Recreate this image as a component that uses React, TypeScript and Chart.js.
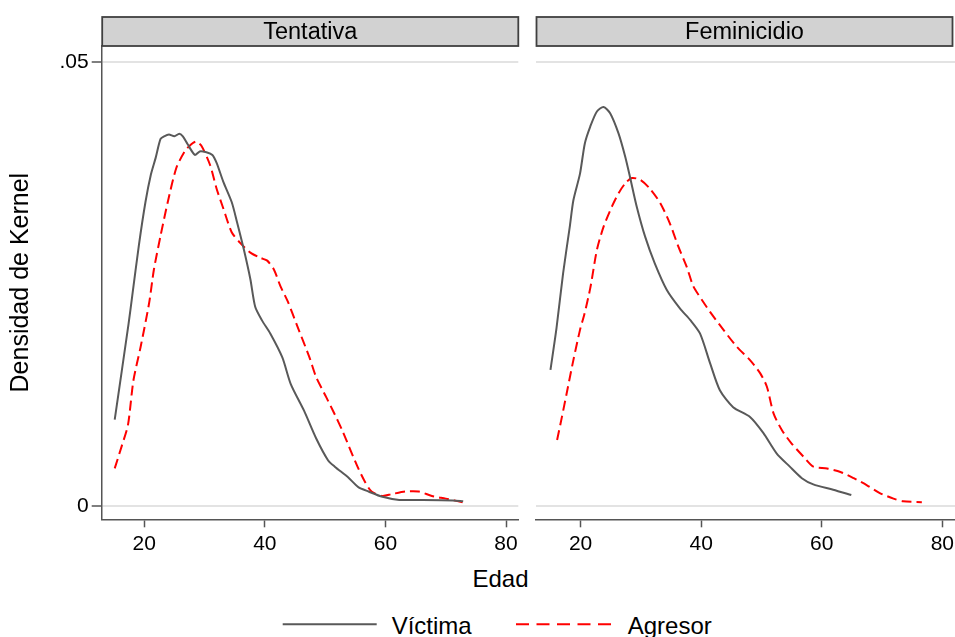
import React, { useEffect, useRef } from "react";
import { Chart, registerables } from "chart.js";

Chart.register(...registerables);

// ---------- data ----------
const panelNames = ["Tentativa", "Feminicidio"];
const seriesNames = ["Víctima", "Agresor"];

const xTicks = [20, 40, 60, 80];
const yTicks = [0, 0.05];
const yTickLabels = ["0", ".05"];

// Tentativa – Víctima
const tentVictAge = [15.1, 17.4, 18.0, 19.1, 20.2, 21.1, 21.9, 22.7, 23.3, 24.1, 25.0, 25.8, 26.4, 27.2, 28.4, 29.2, 30.3, 31.3, 32.0, 33.1, 34.5, 35.4, 36.5, 37.6, 38.4, 39.5, 40.9, 42.9, 44.3, 46.5, 48.5, 50.5, 51.6, 53.8, 55.5, 57.2, 59.5, 62.3, 66.2, 71.2, 72.9];
const tentVictDens = [0.0097, 0.0205, 0.0236, 0.0293, 0.0342, 0.0373, 0.0392, 0.0413, 0.0416, 0.0418, 0.0416, 0.0419, 0.0416, 0.0407, 0.0395, 0.0399, 0.0398, 0.0395, 0.0386, 0.0365, 0.0342, 0.0319, 0.0289, 0.0255, 0.0224, 0.0209, 0.0194, 0.0167, 0.0137, 0.0107, 0.0076, 0.0051, 0.0044, 0.0032, 0.0021, 0.0016, 0.0010, 0.00065, 0.00065, 0.0006, 0.0005];

// Tentativa – Agresor
const tentAgrAge = [15.1, 16.3, 17.3, 18.2, 19.4, 20.8, 21.6, 22.7, 23.9, 25.3, 26.7, 27.8, 28.6, 29.5, 30.9, 32.0, 33.1, 34.5, 35.9, 37.6, 39.3, 40.4, 41.5, 42.6, 43.8, 45.4, 47.4, 48.5, 50.2, 51.3, 52.9, 54.3, 55.5, 56.6, 57.7, 59.5, 61.0, 63.3, 65.5, 67.7, 70.0, 72.8];
const tentAgrDens = [0.0042, 0.0068, 0.0091, 0.0141, 0.0179, 0.0228, 0.0266, 0.0304, 0.0342, 0.0380, 0.0399, 0.0407, 0.0410, 0.0405, 0.0384, 0.0357, 0.0335, 0.0308, 0.0296, 0.0285, 0.0279, 0.0276, 0.0266, 0.0247, 0.0230, 0.0202, 0.0167, 0.0145, 0.0122, 0.0107, 0.0084, 0.0061, 0.0042, 0.0027, 0.0016, 0.0011, 0.0013, 0.0016, 0.0016, 0.0011, 0.0008, 0.0004];

// Feminicidio – Víctima
const femVictAge = [15.0, 16.0, 17.1, 18.2, 18.8, 19.9, 20.7, 21.6, 22.7, 23.8, 24.9, 26.3, 27.4, 28.2, 29.3, 30.7, 32.3, 34.3, 36.5, 38.2, 39.8, 41.5, 43.1, 45.3, 48.1, 50.3, 52.5, 54.7, 56.7, 58.6, 61.9, 64.9];
const femVictDens = [0.0153, 0.0200, 0.0262, 0.0314, 0.0344, 0.0374, 0.0408, 0.0427, 0.0444, 0.0449, 0.0442, 0.0419, 0.0393, 0.0370, 0.0337, 0.0303, 0.0273, 0.0243, 0.0222, 0.0209, 0.0194, 0.0160, 0.0130, 0.0111, 0.0100, 0.0082, 0.0059, 0.0044, 0.0031, 0.0024, 0.0018, 0.0012];

// Feminicidio – Agresor
const femAgrAge = [16.1, 16.9, 17.7, 18.8, 19.9, 20.6, 21.6, 22.7, 23.8, 25.2, 26.3, 27.4, 28.5, 29.9, 31.5, 33.2, 34.8, 36.2, 37.6, 38.7, 40.1, 41.5, 43.7, 45.9, 48.1, 49.8, 50.9, 52.0, 53.4, 55.0, 57.0, 58.6, 60.9, 63.1, 65.3, 67.5, 69.7, 71.9, 73.5, 76.6];
const femAgrDens = [0.0074, 0.0100, 0.0127, 0.0164, 0.0198, 0.0215, 0.0245, 0.0288, 0.0314, 0.0337, 0.0352, 0.0363, 0.0369, 0.0367, 0.0357, 0.0341, 0.0318, 0.0292, 0.0269, 0.0247, 0.0232, 0.0218, 0.0198, 0.0179, 0.0164, 0.0149, 0.0134, 0.0104, 0.0085, 0.0070, 0.0055, 0.0044, 0.0042, 0.0038, 0.0031, 0.0023, 0.0014, 0.0008, 0.0005, 0.0004];

// ---------- styles ----------
const FONT = "'Liberation Sans', Arial, sans-serif";
const VICT_COLOR = "#595959";
const AGR_COLOR = "#ff0000";
const AXIS_COLOR = "#555555";
const GRID_COLOR = "#e3e3e3";

const toPoints = (xs: number[], ys: number[]) => xs.map((x, i) => ({ x, y: ys[i] }));

const stripPlugin = {
  id: "strip",
  afterDraw(chart: any, _args: any, opts: any) {
    const { ctx, chartArea } = chart;
    const left = chartArea.left + 0.5;
    const right = chartArea.right - (opts.rightInset || 0);
    const top = 17;
    const h = 29;
    ctx.save();
    ctx.fillStyle = "#d2d2d2";
    ctx.fillRect(left, top, right - left, h);
    ctx.strokeStyle = "#404040";
    ctx.lineWidth = 1.8;
    ctx.strokeRect(left, top, right - left, h);
    ctx.fillStyle = "#000";
    ctx.font = `23.5px ${FONT}`;
    ctx.textAlign = "center";
    ctx.textBaseline = "middle";
    ctx.fillText(opts.text || "", (left + right) / 2, top + h / 2 + 1);
    ctx.restore();
  },
};

function makeConfig(
  name: string,
  vict: { x: number; y: number }[],
  agr: { x: number; y: number }[],
  showY: boolean,
  xMin: number,
  xMax: number,
  padLeft: number,
  padRight: number,
  rightInset: number
): any {
  return {
    type: "line",
    data: {
      datasets: [
        {
          label: seriesNames[0],
          data: vict,
          borderColor: VICT_COLOR,
          borderWidth: 2,
          pointRadius: 0,
          tension: 0.25,
          fill: false,
        },
        {
          label: seriesNames[1],
          data: agr,
          borderColor: AGR_COLOR,
          borderWidth: 2,
          borderDash: [10, 5],
          pointRadius: 0,
          tension: 0.25,
          fill: false,
        },
      ],
    },
    options: {
      animation: false,
      responsive: false,
      maintainAspectRatio: false,
      layout: { padding: { top: 46, left: padLeft, right: padRight, bottom: 0 } },
      plugins: {
        legend: { display: false },
        tooltip: { enabled: false },
        strip: { text: name, rightInset },
      },
      scales: {
        x: {
          type: "linear",
          min: xMin,
          max: xMax,
          afterBuildTicks: (axis: any) => {
            axis.ticks = xTicks.map((v) => ({ value: v }));
          },
          afterFit: (axis: any) => {
            axis.height = 40.7;
            axis.paddingLeft = 0;
            axis.paddingRight = 0;
          },
          ticks: {
            font: { family: FONT, size: 21 },
            color: "#000",
            padding: 4,
            maxRotation: 0,
            callback: (v: any) => String(v),
          },
          grid: {
            drawOnChartArea: false,
            drawTicks: true,
            tickLength: 8,
            tickColor: AXIS_COLOR,
            tickWidth: 1.5,
          },
          border: { display: true, color: AXIS_COLOR, width: 1.5 },
        },
        y: {
          type: "linear",
          min: -0.00153,
          max: 0.05177,
          afterBuildTicks: (axis: any) => {
            axis.ticks = yTicks.map((v) => ({ value: v }));
          },
          afterFit: (axis: any) => {
            axis.width = showY ? 101.7 : 0;
            axis.paddingTop = 0;
            axis.paddingBottom = 0;
          },
          ticks: {
            display: showY,
            font: { family: FONT, size: 21 },
            color: "#000",
            padding: 3,
            callback: (v: any) => {
              const i = yTicks.indexOf(v);
              return i >= 0 ? yTickLabels[i] : "";
            },
          },
          grid: {
            color: GRID_COLOR,
            lineWidth: 2,
            drawTicks: showY,
            tickLength: 10,
            tickColor: AXIS_COLOR,
            tickWidth: 1.5,
          },
          border: { display: showY, color: AXIS_COLOR, width: 1.5 },
          title: {
            display: showY,
            text: "Densidad de Kernel",
            font: { family: FONT, size: 25 },
            color: "#000",
            padding: { top: 6, bottom: 0 },
          },
        },
      },
    },
    plugins: [stripPlugin],
  };
}

export default function App() {
  const leftRef = useRef<HTMLCanvasElement>(null);
  const rightRef = useRef<HTMLCanvasElement>(null);

  useEffect(() => {
    const c1 = new Chart(
      leftRef.current as HTMLCanvasElement,
      makeConfig(
        panelNames[0],
        toPoints(tentVictAge, tentVictDens),
        toPoints(tentAgrAge, tentAgrDens),
        true,
        12.94,
        82.04,
        0,
        8.7,
        0
      )
    );
    const c2 = new Chart(
      rightRef.current as HTMLCanvasElement,
      makeConfig(
        panelNames[1],
        toPoints(femVictAge, femVictDens),
        toPoints(femAgrAge, femAgrDens),
        false,
        12.6,
        82.1,
        9,
        0,
        2.5
      )
    );
    return () => {
      c1.destroy();
      c2.destroy();
    };
  }, []);

  const textStyle: React.CSSProperties = {
    position: "absolute",
    fontFamily: FONT,
    fontSize: 24,
    lineHeight: "28px",
    height: 28,
    color: "#000",
    whiteSpace: "nowrap",
  };

  return (
    <div
      style={{
        position: "fixed",
        left: 0,
        top: 0,
        width: 955,
        height: 637,
        background: "#fff",
        overflow: "hidden",
      }}
    >
      <canvas
        ref={leftRef}
        width={527}
        height={560}
        style={{ position: "absolute", left: 0, top: 0, width: 527, height: 560 }}
      />
      <canvas
        ref={rightRef}
        width={428}
        height={560}
        style={{ position: "absolute", left: 527, top: 0, width: 428, height: 560 }}
      />
      <div style={{ ...textStyle, left: 440, width: 121, top: 565, textAlign: "center" }}>Edad</div>
      <svg
        width={955}
        height={20}
        style={{ position: "absolute", left: 0, top: 614 }}
      >
        <line x1={282.7} y1={10.3} x2={376.7} y2={10.3} stroke={VICT_COLOR} strokeWidth={2} />
        <line
          x1={516}
          y1={10.3}
          x2={611}
          y2={10.3}
          stroke={AGR_COLOR}
          strokeWidth={2}
          strokeDasharray="13 7.5"
        />
      </svg>
      <div style={{ ...textStyle, left: 391.7, top: 612 }}>{seriesNames[0]}</div>
      <div style={{ ...textStyle, left: 627.7, top: 612 }}>{seriesNames[1]}</div>
    </div>
  );
}
